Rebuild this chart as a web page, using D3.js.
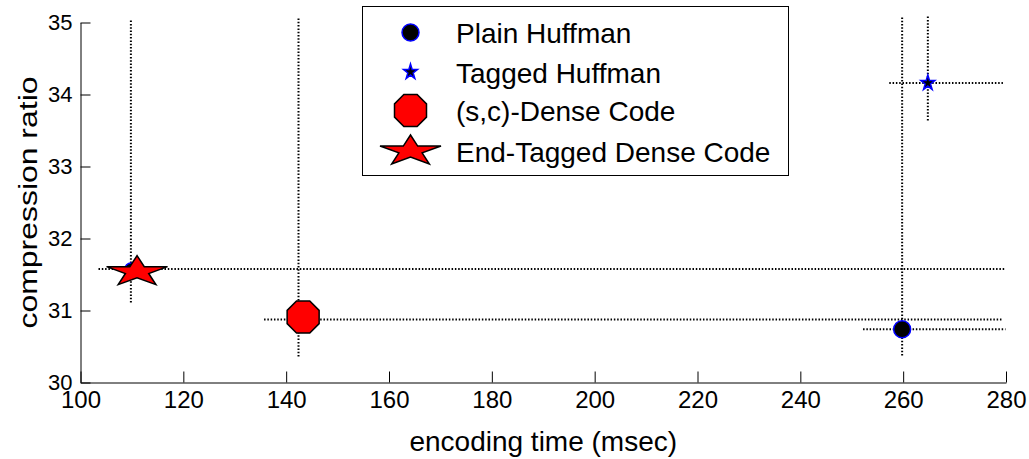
<!DOCTYPE html>
<html>
<head>
<meta charset="utf-8">
<script src="https://cdn.jsdelivr.net/npm/d3@7"></script>
<style>
  body { margin: 0; background: #fff; }
  text { font-family: 'Liberation Sans', Arial, sans-serif; fill: #000; }
</style>
</head>
<body>
<div id="graf"></div>
<script>
// !DATOS
const series = ['Plain Huffman', 'Tagged Huffman', '(s,c)-Dense Code', 'End-Tagged Dense Code']
// punto donde se cruzan las barras de error
const tiempo = [259.8, 264.8, 142.4, 109.8]
const ratio = [30.74, 34.16, 30.875, 31.576]
const tiempoMin = [252.2, 257.3, 135.7, 103.5]
const tiempoMax = [279.9, 279.4, 279.3, 279.8]
const ratioMin = [30.375, 33.64, 30.36, 31.11]
const ratioMax = [35.07, 35.1, 35.07, 35.03]
// donde queda el marcador grande
const marcaTiempo = [259.8, 264.8, 143.3, 111.0]
const marcaRatio = [30.74, 34.16, 30.91, 31.54]

const xTicks = [100, 120, 140, 160, 180, 200, 220, 240, 260, 280]
const yTicks = [30, 31, 32, 33, 34, 35]

const anchoTotal = 1029
const altoTotal = 459

const margin = { top: 22.5, left: 80.5, right: 23, bottom: 76.5 }
const ancho = 925.5
const alto = 360

const fuente = "'Liberation Sans', Arial, sans-serif"

// estilos de cada serie
const estilos = [
  { forma: 'circulo', fill: '#000', stroke: '#0000ff', w: 17, h: 17 },
  { forma: 'estrella', fill: '#000', stroke: '#0000ff', w: 14, h: 14.5 },
  { forma: 'octagono', fill: '#ff0000', stroke: '#000', w: 32, h: 32 },
  { forma: 'estrella', fill: '#ff0000', stroke: '#000', w: 61, h: 29 },
]

const svg = d3
  .select('#graf')
  .append('svg')
  .attr('width', anchoTotal)
  .attr('height', altoTotal)

const g = svg
  .append('g')
  .attr('transform', `translate(${margin.left}, ${margin.top})`)

let x = d3.scaleLinear().domain([100, 280]).range([0, ancho])
let y = d3.scaleLinear().domain([30, 35]).range([alto, 0])

// !FORMAS DE LOS MARCADORES
function estrellaPath(w, h) {
  const ax = w / (2 * Math.sin(Math.PI * 72 / 180))
  const ay = h / (1 + Math.cos(Math.PI * 36 / 180))
  const pts = d3.range(10).map((k) => {
    const ang = (-90 + 36 * k) * Math.PI / 180
    const rr = k % 2 == 0 ? 1 : 0.382
    return [Math.cos(ang) * rr * ax, Math.sin(ang) * rr * ay]
  })
  return 'M' + pts.map((p) => p.join(',')).join('L') + 'Z'
}

function octagonoPath(w) {
  const R = w / 2 / Math.cos(Math.PI / 8)
  const pts = d3.range(8).map((k) => {
    const ang = (22.5 + 45 * k) * Math.PI / 180
    return [Math.cos(ang) * R, Math.sin(ang) * R]
  })
  return 'M' + pts.map((p) => p.join(',')).join('L') + 'Z'
}

function marcador(sel, e) {
  if (e.forma == 'circulo') {
    sel.append('circle').attr('r', e.w / 2)
  } else if (e.forma == 'estrella') {
    sel.append('path').attr('d', estrellaPath(e.w, e.h))
  } else {
    sel.append('path').attr('d', octagonoPath(e.w))
  }
  sel.selectAll('circle, path')
    .attr('fill', e.fill)
    .attr('stroke', e.stroke)
    .attr('stroke-width', 1.5)
    .attr('stroke-linejoin', 'miter')
}

// !EJES
const ejeX = g.append('g')
  .attr('transform', `translate(0, ${alto})`)
  .call(
    d3.axisBottom(x)
      .tickValues(xTicks)
      .tickSize(-11)
      .tickSizeOuter(0)
      .tickPadding(8)
      .tickFormat(d3.format('d'))
  )
ejeX.selectAll('text')
  .attr('font-size', 24)
  .attr('dy', '0.71em')

const ejeY = g.append('g')
  .call(
    d3.axisLeft(y)
      .tickValues(yTicks)
      .tickSize(-10)
      .tickSizeOuter(0)
      .tickPadding(8)
      .tickFormat(d3.format('d'))
  )
ejeY.selectAll('text').attr('font-size', 22)

g.selectAll('.domain, .tick line').attr('stroke', '#000').attr('stroke-width', 1)
g.selectAll('.tick text').attr('font-family', fuente).attr('fill', '#000')

// !BARRAS DE ERROR
const idx = d3.range(series.length)
const barras = g.append('g')
  .attr('stroke', '#000')
  .attr('stroke-width', 2)
  .attr('stroke-dasharray', '1.5,1.8')

barras.selectAll('.errX')
  .data(idx)
  .enter()
  .append('line')
  .attr('x1', (i) => x(tiempoMin[i]))
  .attr('x2', (i) => x(tiempoMax[i]))
  .attr('y1', (i) => y(ratio[i]))
  .attr('y2', (i) => y(ratio[i]))

barras.selectAll('.errY')
  .data(idx)
  .enter()
  .append('line')
  .attr('x1', (i) => x(tiempo[i]))
  .attr('x2', (i) => x(tiempo[i]))
  .attr('y1', (i) => y(ratioMin[i]))
  .attr('y2', (i) => y(ratioMax[i]))

// marcador pequeño del errorbar (queda casi tapado)
idx.slice(2).forEach((i) => {
  const m = g.append('g').attr('transform', `translate(${x(tiempo[i])}, ${y(ratio[i])})`)
  marcador(m, { forma: 'circulo', fill: '#000', stroke: '#0000ff', w: 12 })
})

// !MARCADORES
idx.forEach((i) => {
  const m = g.append('g')
    .attr('transform', `translate(${x(marcaTiempo[i])}, ${y(marcaRatio[i])})`)
  marcador(m, estilos[i])
})

// !TITULOS DE LOS EJES
svg.append('text')
  .attr('x', margin.left + ancho / 2)
  .attr('y', 451)
  .attr('text-anchor', 'middle')
  .attr('font-size', 28)
  .text('encoding time (msec)')

svg.append('text')
  .attr('transform', `translate(37, ${margin.top + alto / 2}) rotate(-90)`)
  .attr('text-anchor', 'middle')
  .attr('font-size', 25)
  .attr('textLength', 252)
  .attr('lengthAdjust', 'spacingAndGlyphs')
  .text('compression ratio')

// !LEYENDA
const leyenda = svg.append('g').attr('transform', 'translate(362.5, 6.5)')
leyenda.append('rect')
  .attr('width', 426)
  .attr('height', 169)
  .attr('fill', '#fff')
  .attr('stroke', '#000')
  .attr('stroke-width', 1)

const filas = [26, 65.5, 104, 144.5]
idx.forEach((i) => {
  const m = leyenda.append('g').attr('transform', `translate(48, ${filas[i]})`)
  marcador(m, estilos[i])
  leyenda.append('text')
    .attr('x', 93.5)
    .attr('y', filas[i] + 10.5)
    .attr('font-size', 28)
    .text(series[i])
})
</script>
</body>
</html>
